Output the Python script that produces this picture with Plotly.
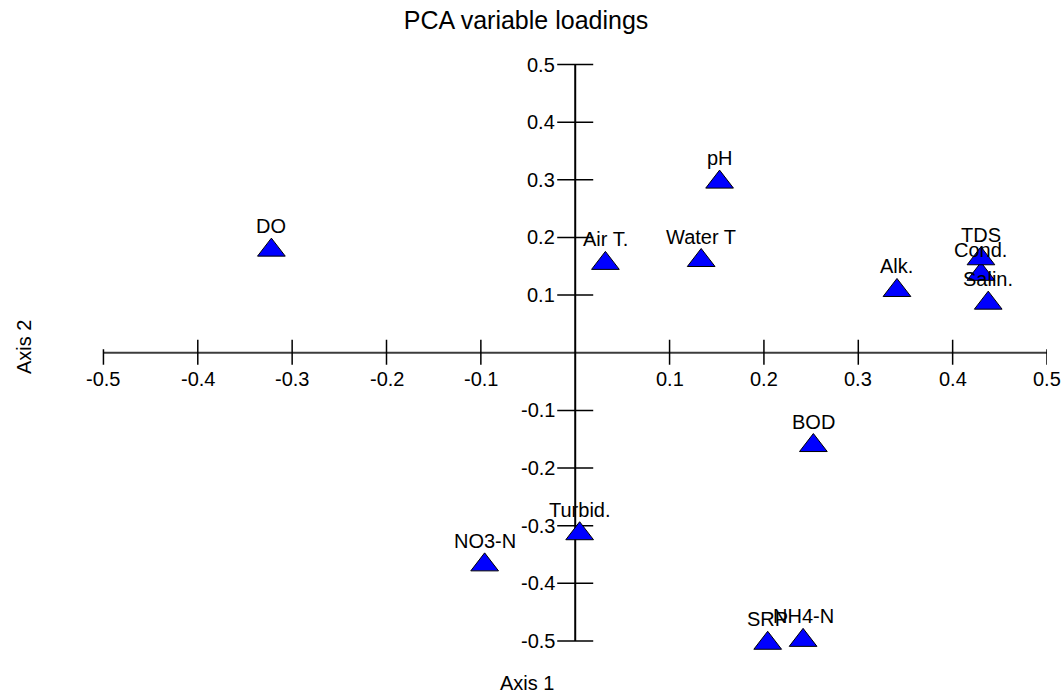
import plotly.graph_objects as go

# Variable loadings
variables = ["DO", "Air T.", "Water T", "pH", "Alk.", "Cond.", "TDS", "Salin.",
             "BOD", "Turbid.", "NO3-N", "SRP", "NH4-N"]
axis1 = [-0.322, 0.032, 0.1335, 0.153, 0.341, 0.430, 0.430, 0.4377,
         0.2524, 0.0047, -0.096, 0.204, 0.2415]
axis2 = [0.178, 0.155, 0.160, 0.296, 0.108, 0.136, 0.163, 0.086,
         -0.161, -0.314, -0.368, -0.504, -0.499]

x_ticks = [-0.5, -0.4, -0.3, -0.2, -0.1, 0.1, 0.2, 0.3, 0.4, 0.5]
x_tick_labels = ["-0.5", "-0.4", "-0.3", "-0.2", "-0.1", "0.1", "0.2", "0.3", "0.4", "0.5"]
y_ticks = [0.5, 0.4, 0.3, 0.2, 0.1, -0.1, -0.2, -0.3, -0.4, -0.5]
y_tick_labels = ["0.5", "0.4", "0.3", "0.2", "0.1", "-0.1", "-0.2", "-0.3", "-0.4", "-0.5"]

FONT = "Liberation Sans, Arial, sans-serif"
W, H = 1061, 696

# plot geometry (pixels)
X_RANGE = [-0.51, 0.5]
Y_RANGE = [-0.54, 0.52]
KX = 943.4   # px per unit on axis 1
KY = 575.5   # px per unit on axis 2
left = 103.3 - (-0.5 - X_RANGE[0]) * KX
right = W - (left + (X_RANGE[1] - X_RANGE[0]) * KX)
top = 65 - (Y_RANGE[1] - 0.5) * KY
plot_h = (Y_RANGE[1] - Y_RANGE[0]) * KY
bottom = H - top - plot_h
plot_w = W - left - right

fig = go.Figure()
fig.add_trace(go.Scatter(
    x=axis1, y=axis2, mode="markers", cliponaxis=False,
    marker=dict(symbol="triangle-up", size=24, color="#0000FF",
                line=dict(color="black", width=1)),
    hoverinfo="text", text=variables, showlegend=False,
))

shapes = []
shapes.append(dict(type="line", xref="x", yref="y", x0=-0.5, x1=0.5, y0=0, y1=0,
                   line=dict(color="#3c3c3c", width=2), layer="below"))
shapes.append(dict(type="line", xref="x", yref="y", x0=0, x1=0, y0=-0.5, y1=0.5,
                   line=dict(color="black", width=2), layer="below"))
for xv in x_ticks:
    up = 3.5 if abs(xv) >= 0.5 else 13
    shapes.append(dict(type="line", xref="x", yref="y", x0=xv, x1=xv,
                       ysizemode="pixel", yanchor=0, y0=-12, y1=up,
                       line=dict(color="black", width=1.5), layer="below"))
for yv in y_ticks:
    shapes.append(dict(type="line", xref="x", yref="y", y0=yv, y1=yv,
                       xsizemode="pixel", xanchor=0, x0=-18, x1=18,
                       line=dict(color="black", width=1.5), layer="below"))

annotations = []
for xv, lab in zip(x_ticks, x_tick_labels):
    annotations.append(dict(x=xv, y=0, xref="x", yref="y", text=lab, showarrow=False,
                            xanchor="center", yanchor="middle", yshift=-26,
                            font=dict(family=FONT, size=20, color="black")))
for yv, lab in zip(y_ticks, y_tick_labels):
    annotations.append(dict(x=0, y=yv, xref="x", yref="y", text=lab, showarrow=False,
                            xanchor="right", yanchor="middle", xshift=-18,
                            font=dict(family=FONT, size=20, color="black")))
for xv, yv, lab in zip(axis1, axis2, variables):
    annotations.append(dict(x=xv, y=yv, xref="x", yref="y", text=lab, showarrow=False,
                            xanchor="center", yanchor="bottom", yshift=11,
                            font=dict(family=FONT, size=20, color="black")))
# axis titles (positions in pixels converted to paper coords)
annotations.append(dict(x=(527 - left) / plot_w, y=(H - bottom - 682) / plot_h,
                        xref="paper", yref="paper",
                        text="Axis 1", showarrow=False, xanchor="center", yanchor="middle",
                        font=dict(family=FONT, size=20, color="black")))
annotations.append(dict(x=(24 - left) / plot_w, y=(H - bottom - 347) / plot_h,
                        xref="paper", yref="paper",
                        text="Axis 2", showarrow=False, textangle=-90,
                        xanchor="center", yanchor="middle",
                        font=dict(family=FONT, size=20, color="black")))

fig.update_layout(
    width=W, height=H,
    margin=dict(l=left, r=right, t=top, b=bottom, pad=0),
    paper_bgcolor="white", plot_bgcolor="white",
    title=dict(text="PCA variable loadings", x=526 / W, xref="container", xanchor="center",
               y=1 - 20 / H, yref="container", yanchor="middle",
               font=dict(family=FONT, size=25, color="black")),
    xaxis=dict(range=X_RANGE, visible=False, fixedrange=True),
    yaxis=dict(range=Y_RANGE, visible=False, fixedrange=True),
    shapes=shapes, annotations=annotations,
    font=dict(family=FONT),
)

fig.write_html("out.html", config={"displayModeBar": False},
               post_script="document.body.style.margin='0';document.body.style.padding='0';")
